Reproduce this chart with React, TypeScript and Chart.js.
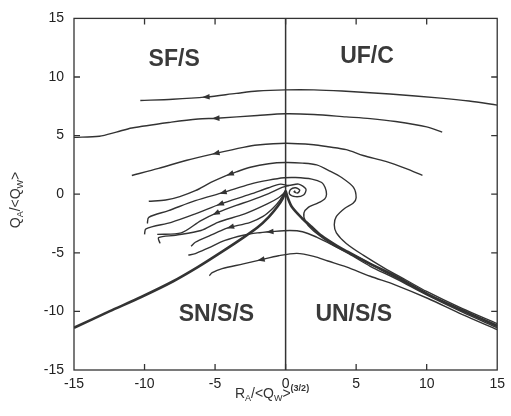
import React, { useEffect, useRef } from "react";
import { Chart, registerables } from "chart.js";

Chart.register(...registerables);

type P = [number, number];

// Axis ticks
const xTickValues = [-15, -10, -5, 0, 5, 10, 15];
const yTickValues = [-15, -10, -5, 0, 5, 10, 15];

// Trajectories (x = R_A/<Q_W>^(3/2), y = Q_A/<Q_W>)
const trajTop: P[] = [[-10.3, 8.0], [-8, 8.1], [-5.6, 8.3], [-3.5, 8.6], [-2, 8.8], [0, 8.9], [2, 8.9], [4, 8.8], [7.4, 8.55], [11, 8.2], [13, 7.95], [15, 7.6]];
const trajSecond: P[] = [[-15, 4.85], [-13.2, 4.95], [-12, 5.3], [-10.9, 5.65], [-8.1, 6.15], [-6.2, 6.42], [-4.9, 6.48], [-2, 6.72], [0, 6.86], [2, 6.8], [4.3, 6.6], [6, 6.45], [7.8, 6.2], [10, 5.75], [11.1, 5.3]];
const trajThird: P[] = [[-10.9, 1.6], [-9, 2.2], [-7, 2.9], [-4.9, 3.5], [-3, 4.0], [-2, 4.2], [0, 4.35], [2, 4.22], [3, 4.05], [4.3, 3.8], [5.5, 3.3], [7.1, 2.8], [8.5, 2.2], [9.7, 1.6]];
const trajA: P[] = [[-9.7, -0.6], [-8.5, -0.5], [-7.5, -0.2], [-6.4, 0.3], [-5.3, 1.0], [-4.3, 1.55], [-3.5, 1.9], [-2.5, 2.3], [-1.2, 2.6], [0, 2.7], [1.2, 2.65], [2.2, 2.5], [3.1, 2.0], [4.0, 1.4], [4.8, 0.6], [5.0, -0.3], [4.8, -0.75], [4.2, -1.2], [3.6, -1.9], [3.45, -2.6], [3.6, -3.3], [4.3, -4.2], [5.5, -5.2], [7, -6.3], [8.5, -7.3], [10, -8.3], [12.5, -9.75], [15, -11.05]];
const trajB: P[] = [[-9.8, -2.5], [-9.7, -1.97], [-8.3, -1.4], [-6.4, -0.55], [-4.4, 0.15], [-2.5, 0.86], [-1.2, 1.2], [-0.1, 1.4], [0.7, 1.42], [1.86, 1.29], [2.56, 1.0], [2.8, 0.58], [2.9, 0.0], [2.77, -0.4], [2.2, -0.8], [1.63, -1.1], [1.3, -1.6], [1.4, -2.3], [1.86, -3.0], [2.7, -3.8], [3.6, -4.5], [5.5, -5.6], [7, -6.6], [8.5, -7.55], [10, -8.5], [12.5, -9.9], [15, -11.2]];
const trajC: P[] = [[-10, -3.43], [-9.9, -2.95], [-8.1, -2.4], [-6.4, -1.68], [-4.6, -0.83], [-2.5, 0.0], [-1.2, 0.55], [-0.36, 0.86], [0.22, 0.74], [0.92, 0.86], [1.44, 0.44], [1.27, -0.07], [0.69, -0.21], [0.27, 0.02], [0.35, 0.4], [0.7, 0.55], [1.0, 0.35], [0.85, 0.1], [0.6, 0.2], [0.69, 0.28]];
const trajD2: P[] = [[-9.1, -3.43], [-7.4, -3.3], [-6.0, -2.25], [-4.8, -1.55], [-3.5, -0.95], [-2.5, -0.55], [-1.2, 0.05], [-0.25, 0.58], [0.22, 0.74]];
const trajD: P[] = [[-8.9, -4.2], [-9.0, -3.7], [-7.8, -3.5], [-6, -3.1], [-4.8, -2.4], [-2.9, -1.68], [-1.3, -0.83], [-0.5, -0.3], [-0.1, 0.1]];
const trajE: P[] = [[-6.7, -4.45], [-6.4, -4.1], [-5.3, -3.5], [-4.3, -2.95], [-3.87, -2.8], [-2.5, -2.4], [-1.6, -1.9], [-0.9, -1.2], [-0.4, -0.5], [-0.05, 0.2]];
const trajF: P[] = [[-6.9, -5.2], [-6.4, -5.07], [-5.5, -4.6], [-4.3, -3.94], [-3, -3.5], [-2, -3.3], [-1.07, -3.2], [0.3, -3.1], [1.2, -3.2], [2.2, -3.66], [3.1, -4.2], [4.5, -5.1], [6, -6.15], [7.8, -7.2], [10, -8.6], [12.5, -10.05], [15, -11.4]];
const trajG: P[] = [[-5.4, -6.95], [-5.2, -6.7], [-4.5, -6.35], [-3, -5.95], [-1.77, -5.6], [-0.5, -5.25], [0.8, -5.05], [2, -5.3], [3, -5.7], [4.3, -6.2], [6, -7.0], [7.8, -7.75], [10.1, -8.9], [12.5, -10.25], [15, -11.55]];
const separatrixLeft: P[] = [[-15, -11.4], [-12.5, -10.0], [-10.2, -8.75], [-8, -7.45], [-6.2, -6.2], [-4.5, -4.9], [-3, -3.7], [-2, -2.85], [-1.2, -1.95], [-0.6, -1.1], [-0.2, -0.35], [0, 0.3]];
const separatrixRight: P[] = [[0, 0.3], [0.15, -0.3], [0.45, -1.1], [1.16, -2.05], [1.86, -2.8], [2.56, -3.55], [3.5, -4.3], [4.3, -4.85], [6, -5.95], [7.8, -7.0], [10.1, -8.55], [12.5, -9.9], [15, -11.25]];
const axisZero: P[] = [[0, -15], [0, 15]];

const curves = [
  { name: "top", pts: trajTop, w: 1.4 },
  { name: "second", pts: trajSecond, w: 1.4 },
  { name: "third", pts: trajThird, w: 1.4 },
  { name: "A", pts: trajA, w: 1.4 },
  { name: "B", pts: trajB, w: 1.4 },
  { name: "C", pts: trajC, w: 1.4 },
  { name: "D2", pts: trajD2, w: 1.4 },
  { name: "D", pts: trajD, w: 1.4 },
  { name: "E", pts: trajE, w: 1.4 },
  { name: "F", pts: trajF, w: 1.4 },
  { name: "G", pts: trajG, w: 1.4 },
  { name: "sepL", pts: separatrixLeft, w: 2.6 },
  { name: "sepR", pts: separatrixRight, w: 2.6 },
  { name: "zero", pts: axisZero, w: 1.5 },
];

// Arrow heads: which trajectory and at which x value
const arrowCurves = ["top", "second", "third", "A", "B", "C", "D2", "E", "F", "G"];
const arrowXs = [-5.6, -4.9, -4.9, -3.9, -4.4, -4.6, -4.9, -3.87, -1.07, -1.7];

// Region labels
const regionTexts = ["SF/S", "UF/C", "SN/S/S", "UN/S/S"];
const regionXs = [-7.9, 5.77, -4.9, 4.83];
const regionYs = [11.5, 11.7, -10.3, -10.3];

const FONT = '"Liberation Sans", Arial, Helvetica, sans-serif';
const INK = "#333333";

type Part = { t: string; size: number; shift: number; bold?: boolean };

function drawParts(ctx: CanvasRenderingContext2D, parts: Part[], x: number, y: number, align: "left" | "center") {
  let total = 0;
  const widths = parts.map((p) => {
    ctx.font = `${p.bold ? "bold " : ""}${p.size}px ${FONT}`;
    const w = ctx.measureText(p.t).width;
    total += w;
    return w;
  });
  let cx = align === "center" ? x - total / 2 : x;
  ctx.textBaseline = "alphabetic";
  ctx.textAlign = "left";
  parts.forEach((p, i) => {
    ctx.font = `${p.bold ? "bold " : ""}${p.size}px ${FONT}`;
    ctx.fillText(p.t, cx, y + p.shift);
    cx += widths[i];
  });
}

const decorPlugin = {
  id: "decor",
  afterDatasetsDraw(chart: any) {
    const ctx: CanvasRenderingContext2D = chart.ctx;
    const xs = chart.scales.x;
    const ys = chart.scales.y;
    const area = chart.chartArea;
    ctx.save();
    // frame
    ctx.strokeStyle = INK;
    ctx.lineWidth = 1.3;
    ctx.strokeRect(area.left, area.top, area.right - area.left, area.bottom - area.top);
    // inner ticks, mirrored
    const tl = 6;
    ctx.beginPath();
    xTickValues.slice(1, -1).forEach((v) => {
      const px = xs.getPixelForValue(v);
      ctx.moveTo(px, area.bottom);
      ctx.lineTo(px, area.bottom - tl);
      ctx.moveTo(px, area.top);
      ctx.lineTo(px, area.top + tl);
    });
    yTickValues.slice(1, -1).forEach((v) => {
      const py = ys.getPixelForValue(v);
      ctx.moveTo(area.left, py);
      ctx.lineTo(area.left + tl, py);
      ctx.moveTo(area.right, py);
      ctx.lineTo(area.right - tl, py);
    });
    ctx.stroke();

    // arrow heads
    ctx.fillStyle = INK;
    arrowCurves.forEach((name, k) => {
      const di = curves.findIndex((c) => c.name === name);
      const pts = chart.getDatasetMeta(di).data;
      const px = xs.getPixelForValue(arrowXs[k]);
      for (let i = 0; i < pts.length - 1; i++) {
        const a = pts[i];
        const b = pts[i + 1];
        if ((a.x - px) * (b.x - px) <= 0 && a.x !== b.x) {
          const t = (px - a.x) / (b.x - a.x);
          const y = a.y + t * (b.y - a.y);
          let dx = b.x - a.x;
          let dy = b.y - a.y;
          if (dx > 0) {
            dx = -dx;
            dy = -dy;
          }
          const len = Math.hypot(dx, dy);
          const ux = dx / len;
          const uy = dy / len;
          const nx = -uy;
          const ny = ux;
          ctx.beginPath();
          ctx.moveTo(px + ux * 4.5, y + uy * 4.5);
          ctx.lineTo(px - ux * 3 + nx * 2.8, y - uy * 3 + ny * 2.8);
          ctx.lineTo(px - ux * 3 - nx * 2.8, y - uy * 3 - ny * 2.8);
          ctx.closePath();
          ctx.fill();
          break;
        }
      }
    });

    // region labels
    ctx.fillStyle = "#3a3a3a";
    ctx.font = `bold 23px ${FONT}`;
    ctx.textAlign = "center";
    ctx.textBaseline = "middle";
    regionTexts.forEach((t, i) => {
      ctx.fillText(t, xs.getPixelForValue(regionXs[i]), ys.getPixelForValue(regionYs[i]));
    });

    // axis titles
    ctx.fillStyle = INK;
    const xTitle: Part[] = [
      { t: "R", size: 14, shift: 0 },
      { t: "A", size: 9, shift: 3 },
      { t: "/<Q", size: 14, shift: 0 },
      { t: "W", size: 9, shift: 3 },
      { t: ">", size: 14, shift: 0 },
      { t: "(3/2)", size: 9, shift: -7, bold: true },
    ];
    drawParts(ctx, xTitle, 272, 398, "center");

    ctx.save();
    ctx.translate(20, 200);
    ctx.rotate(-Math.PI / 2);
    const yTitle: Part[] = [
      { t: "Q", size: 14, shift: 0 },
      { t: "A", size: 9, shift: 3 },
      { t: "/<Q", size: 14, shift: 0 },
      { t: "W", size: 9, shift: 3 },
      { t: ">", size: 14, shift: 0 },
    ];
    drawParts(ctx, yTitle, 0, 0, "center");
    ctx.restore();

    ctx.restore();
  },
};

export default function App() {
  const ref = useRef<HTMLCanvasElement>(null);
  useEffect(() => {
    document.body.style.margin = "0";
    const canvas = ref.current;
    if (!canvas) return;
    const chart = new Chart(canvas, {
      type: "scatter",
      data: {
        datasets: curves.map((c) => ({
          label: c.name,
          data: c.pts.map(([x, y]) => ({ x, y })),
          showLine: true,
          borderColor: INK,
          backgroundColor: INK,
          borderWidth: c.w,
          pointRadius: 0,
          pointHoverRadius: 0,
          tension: c.name === "zero" ? 0 : 0.3,
          fill: false,
        })),
      },
      options: {
        animation: false,
        responsive: false,
        devicePixelRatio: 1,
        events: [],
        layout: { padding: { top: 16, right: 9, left: 0, bottom: 0 } },
        plugins: { legend: { display: false }, tooltip: { enabled: false } },
        scales: {
          x: {
            type: "linear",
            min: -15,
            max: 15,
            afterBuildTicks: (s: any) => {
              s.ticks = xTickValues.map((v) => ({ value: v }));
            },
            afterFit: (s: any) => {
              s.height = 46;
            },
            grid: { display: false, drawTicks: false },
            border: { display: false },
            ticks: { padding: 6, color: "#222", font: { family: FONT, size: 14 }, maxRotation: 0, autoSkip: false },
          },
          y: {
            type: "linear",
            min: -15,
            max: 15,
            afterBuildTicks: (s: any) => {
              s.ticks = yTickValues.map((v) => ({ value: v }));
            },
            afterFit: (s: any) => {
              s.width = 74;
            },
            grid: { display: false, drawTicks: false },
            border: { display: false },
            ticks: { padding: 10, color: "#222", font: { family: FONT, size: 14 }, autoSkip: false },
          },
        },
      },
      plugins: [decorPlugin],
    } as any);
    return () => chart.destroy();
  }, []);
  return (
    <div style={{ width: 511, height: 416, background: "#fff" }}>
      <canvas ref={ref} width={511} height={416} style={{ display: "block" }} />
    </div>
  );
}
